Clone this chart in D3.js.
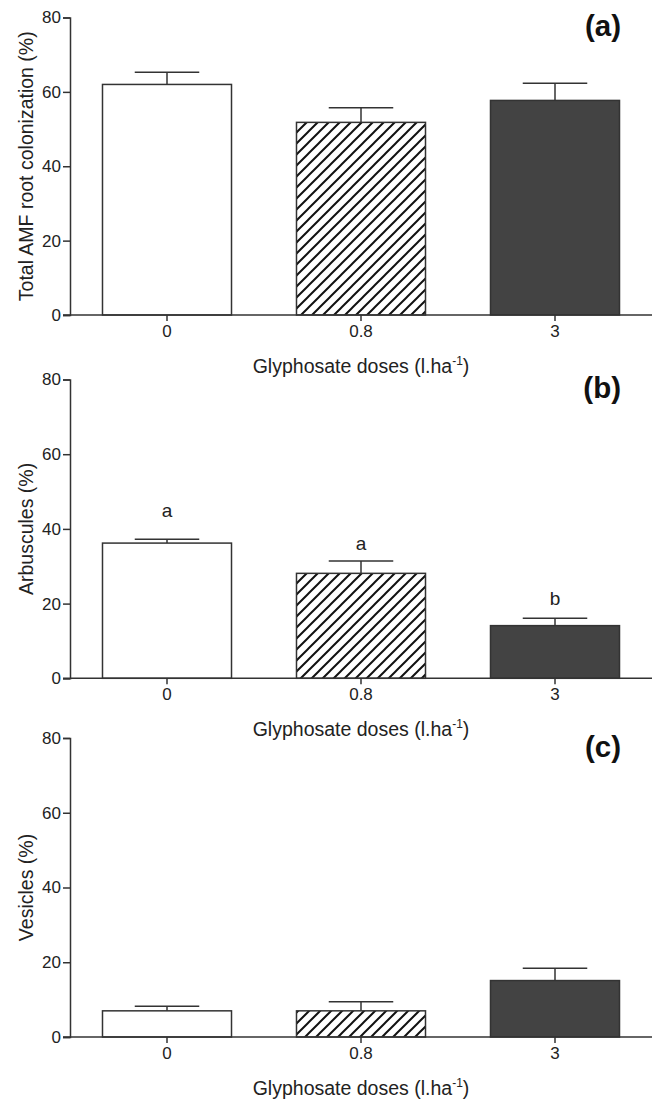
<!DOCTYPE html>
<html>
<head>
<meta charset="utf-8">
<script src="https://cdn.jsdelivr.net/npm/d3@7"></script>
<style>
  html, body { margin: 0; padding: 0; background: #fff; }
  svg { display: block; }
  text { font-family: "Liberation Sans", Arial, sans-serif; fill: #222; }
</style>
</head>
<body>
<svg id="chart" width="659" height="1101"></svg>
<script>
// ---- data ----
const doses = ["0", "0.8", "3"];
const yTicks = [0, 20, 40, 60, 80];

const totalMean = [62.0, 51.8, 57.7];
const totalErr  = [3.3, 3.9, 4.6];

const arbMean = [36.2, 28.1, 14.1];
const arbErr  = [1.0, 3.3, 2.0];
const arbLetters = ["a", "a", "b"];
const arbLetterY = [43.2, 34.3, 19.6];

const vesMean = [7.0, 7.0, 15.1];
const vesErr  = [1.2, 2.4, 3.3];

const panelTitles = ["Total AMF root colonization (%)", "Arbuscules (%)", "Vesicles (%)"];
const panelLabels = ["(a)", "(b)", "(c)"];
const xTitle = "Glyphosate doses (l.ha";

// ---- layout ----
const svg = d3.select("#chart");
const axisColor = "#333";
const fills = ["#ffffff", "url(#hatch)", "#434343"];

const defs = svg.append("defs");
const pat = defs.append("pattern")
  .attr("id", "hatch").attr("patternUnits", "userSpaceOnUse")
  .attr("width", 11).attr("height", 11);
pat.append("rect").attr("width", 11).attr("height", 11).attr("fill", "#fff");
pat.append("path")
  .attr("d", "M0,11 L11,0 M-2.75,2.75 L2.75,-2.75 M8.25,13.75 L13.75,8.25")
  .attr("stroke", "#111").attr("stroke-width", 2);

const panels = [
  { top: 17.5, bottom: 315, mean: totalMean, err: totalErr, letters: null },
  { top: 379.5, bottom: 678.3, mean: arbMean, err: arbErr, letters: arbLetters, letterY: arbLetterY },
  { top: 738, bottom: 1037, mean: vesMean, err: vesErr, letters: null }
];

const x = d3.scaleBand().domain(doses).range([70, 652])
  .paddingInner(0.335).paddingOuter(0.1675);

panels.forEach((p, pi) => {
  const g = svg.append("g");
  const y = d3.scaleLinear().domain([0, 80]).range([p.bottom, p.top]);

  // bars
  g.selectAll("rect.bar").data(doses).join("rect")
    .attr("class", "bar")
    .attr("x", d => x(d))
    .attr("y", (d, i) => y(p.mean[i]))
    .attr("width", x.bandwidth())
    .attr("height", (d, i) => y(0) - y(p.mean[i]))
    .attr("fill", (d, i) => fills[i])
    .attr("stroke", axisColor).attr("stroke-width", 1.5);

  // error bars
  const cap = x.bandwidth() * 0.25;
  doses.forEach((d, i) => {
    const cx = x(d) + x.bandwidth() / 2;
    const yTop = y(p.mean[i] + p.err[i]);
    g.append("line").attr("x1", cx).attr("x2", cx)
      .attr("y1", y(p.mean[i])).attr("y2", yTop)
      .attr("stroke", axisColor).attr("stroke-width", 1.5);
    g.append("line").attr("x1", cx - cap).attr("x2", cx + cap)
      .attr("y1", yTop).attr("y2", yTop)
      .attr("stroke", axisColor).attr("stroke-width", 1.5);
  });

  // letters
  if (p.letters) {
    g.selectAll("text.letter").data(doses).join("text")
      .attr("class", "letter")
      .attr("x", d => x(d) + x.bandwidth() / 2)
      .attr("y", (d, i) => y(p.letterY[i]))
      .attr("text-anchor", "middle")
      .attr("font-size", 19)
      .text((d, i) => p.letters[i]);
  }

  // y axis
  const ya = g.append("g").attr("transform", "translate(70,0)")
    .call(d3.axisLeft(y).tickValues(yTicks).tickSize(7).tickPadding(2).tickFormat(d3.format("d")));
  ya.select(".domain").attr("stroke", axisColor).attr("stroke-width", 1.5);
  ya.selectAll(".tick line").attr("stroke", axisColor).attr("stroke-width", 1.5);
  ya.selectAll(".tick text").attr("font-size", 17).attr("fill", "#222")
    .attr("font-family", "Liberation Sans, Arial, sans-serif");

  // x axis
  const xa = g.append("g").attr("transform", `translate(0,${p.bottom})`)
    .call(d3.axisBottom(x).tickSize(6).tickPadding(4).tickSizeOuter(0));
  xa.select(".domain").attr("d", `M63,0H652`).attr("stroke", axisColor).attr("stroke-width", 1.5);
  xa.selectAll(".tick line").attr("stroke", axisColor).attr("stroke-width", 1.5);
  xa.selectAll(".tick text").attr("font-size", 17).attr("fill", "#222")
    .attr("font-family", "Liberation Sans, Arial, sans-serif");

  // x title
  const xt = g.append("text")
    .attr("x", 361).attr("y", p.bottom + 57.5)
    .attr("text-anchor", "middle").attr("font-size", 19.5);
  xt.append("tspan").text(xTitle);
  xt.append("tspan").attr("font-size", 12).attr("dy", -8).text("-1");
  xt.append("tspan").attr("dy", 8).text(")");

  // y title
  g.append("text")
    .attr("transform", `translate(33,${(p.top + p.bottom) / 2}) rotate(-90)`)
    .attr("text-anchor", "middle").attr("font-size", 19.5)
    .text(panelTitles[pi]);

  // panel label
  g.append("text")
    .attr("x", 621).attr("y", p.top + 18.5)
    .attr("text-anchor", "end").attr("font-size", 29.5).attr("font-weight", "bold")
    .style("fill", "#111")
    .text(panelLabels[pi]);
});
</script>
</body>
</html>
